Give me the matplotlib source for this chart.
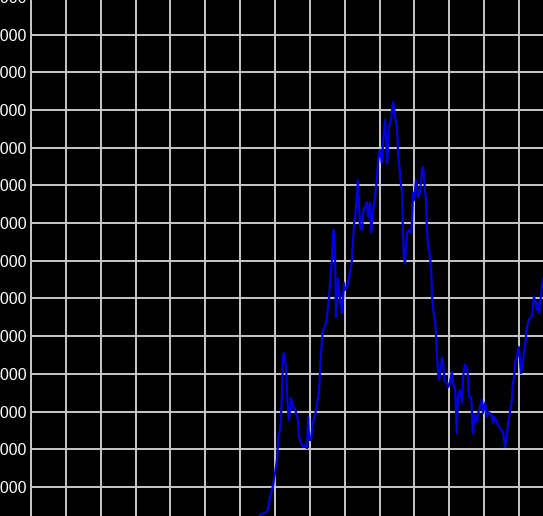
import matplotlib
matplotlib.use("Agg")
import matplotlib.pyplot as plt
from matplotlib.ticker import MultipleLocator, FuncFormatter

# Series (x in arbitrary time units, grid every 10; y values)
x_vals = [65.1, 65.7, 67.1, 68.0, 68.6, 69.2, 69.4, 70.0, 70.6, 70.9,
          71.2, 71.4, 71.7, 72.0, 72.3, 72.6, 73.2, 73.5, 73.7, 74.0,
          74.3, 74.6, 74.9, 75.2, 75.5, 76.0, 76.6, 76.9, 77.5, 78.0,
          78.6, 79.2, 79.5, 79.8, 80.3, 80.9, 81.8, 82.4, 82.6, 82.9,
          83.2, 83.5, 83.8, 84.1, 84.7, 84.9, 85.5, 85.8, 86.4, 86.7,
          86.9, 87.2, 87.5, 87.8, 88.1, 88.4, 89.0, 89.2, 89.5, 89.8,
          90.1, 90.7, 91.0, 91.5, 92.1, 92.4, 92.7, 93.0, 93.5, 93.8,
          94.1, 94.4, 95.0, 95.3, 95.8, 96.4, 96.7, 97.3, 97.6, 98.1,
          98.7, 99.3, 99.6, 100.1, 100.7, 101.0, 101.6, 101.9, 102.2, 102.4,
          102.7, 103.3, 103.6, 103.9, 104.2, 104.5, 105.0, 105.3, 105.6, 106.2,
          106.5, 106.7, 107.0, 107.3, 107.6, 107.9, 108.5, 109.0, 109.3, 109.6,
          109.9, 110.2, 110.5, 110.8, 111.0, 111.6, 112.2, 112.5, 112.8, 113.1,
          113.3, 113.6, 113.9, 114.5, 114.8, 115.1, 115.4, 115.9, 116.2, 116.5,
          116.8, 117.1, 117.6, 117.9, 118.2, 118.5, 118.8, 119.4, 119.7, 120.2,
          120.8, 121.1, 121.7, 122.2, 122.5, 123.1, 123.7, 124.0, 124.5, 125.1,
          125.4, 125.7, 126.3, 126.5, 126.8, 127.4, 128.0, 128.3, 128.8, 129.4,
          129.7, 130.3, 130.8, 131.1, 131.7, 132.3, 132.6, 132.9, 133.4, 134.0,
          134.9, 135.4, 135.7, 136.0, 136.6, 136.9, 137.4, 138.0, 138.3, 138.6,
          138.9, 139.5, 139.7, 140.0, 140.6, 140.9, 141.2, 141.7, 142.0, 142.3,
          142.9, 143.5, 143.8, 144.0, 144.3, 144.9, 145.2, 145.5, 145.8, 146.3,
          146.6, 146.9, 147.8]

y_vals = [130, 260, 310, 390, 740, 970, 1000, 1370, 1720, 2250,
          2430, 2460, 2780, 3390, 4500, 4550, 4180, 3390, 3120, 2780,
          3040, 3360, 3180, 3100, 3120, 2990, 2780, 2330, 2170, 2060,
          2110, 2030, 2860, 2250, 2250, 2700, 3040, 3390, 3490, 4020,
          4550, 4900, 5160, 5220, 5350, 5510, 6010, 6410, 7100, 7760,
          7820, 7370, 5510, 5880, 6540, 6230, 5770, 5620, 5960, 6410,
          6230, 6300, 6410, 6680, 7020, 7550, 8000, 8160, 8690, 9140,
          8530, 7900, 7820, 8270, 8430, 8560, 8160, 8530, 7760, 8270,
          8690, 9220, 9670, 9940, 9590, 10130, 10740, 10200, 9590, 9940,
          10550, 10740, 11000, 11210, 11050, 10810, 10550, 9940, 9590, 8960,
          8880, 7820, 7100, 6940, 7370, 7740, 7820, 7740, 8000, 8800,
          8610, 8880, 9140, 8960, 8690, 8800, 9410, 9490, 9220, 8800,
          8690, 7820, 7470, 7100, 6760, 6040, 5700, 5430, 5090, 4450,
          4020, 3840, 4180, 4420, 4370, 4020, 3790, 3760, 3650, 3760,
          4050, 3760, 3570, 2430, 3390, 3570, 3250, 3920, 4240, 4160,
          3920, 3390, 3390, 3040, 2430, 2910, 2720, 2960, 3120, 3310,
          2960, 3230, 2860, 2990, 2960, 2860, 2700, 2860, 2780, 2640,
          2510, 2460, 2330, 2060, 2430, 2700, 2960, 3310, 3760, 3920,
          4290, 4450, 4630, 4710, 4020, 4180, 4370, 4710, 4980, 5240,
          5430, 5510, 5560, 5770, 6040, 5880, 5700, 5880, 5620, 6040,
          6310, 6490, 6760]

y_step = 1000
x_step = 10

W, H = 543, 516
fig = plt.figure(figsize=(W / 100, H / 100), dpi=100, facecolor="black")

# Axes extends beyond the figure (the reference is a crop of a larger chart)
left_px, right_px = 31, 550
top_px, bottom_px = -30, 540
ax = fig.add_axes([left_px / W, (H - bottom_px) / H,
                   (right_px - left_px) / W, (bottom_px - top_px) / H])
ax.set_facecolor("black")

ax.plot(x_vals, y_vals, color="#0000e0", lw=1.6, solid_joinstyle="round")

ax.xaxis.set_major_locator(MultipleLocator(x_step))
ax.yaxis.set_major_locator(MultipleLocator(y_step))
ax.yaxis.set_major_formatter(FuncFormatter(lambda v, p: f"{int(round(v))}"))
ax.set_xlim(0, 148.92)
ax.set_ylim(-405.8, 14713)

ax.grid(True, color="#c8c8c8", lw=1.4)
ax.set_axisbelow(True)
for s in ["top", "right", "bottom"]:
    ax.spines[s].set_visible(False)
ax.spines["left"].set_color("#c8c8c8")
ax.spines["left"].set_linewidth(1.4)

ax.tick_params(axis="x", length=0, labelbottom=False)
ax.tick_params(axis="y", length=0, pad=2.9, labelcolor="white",
               labelsize=11.5)
for lab in ax.get_yticklabels():
    lab.set_fontfamily("Liberation Sans")

fig.savefig("out.png", dpi=100, facecolor="black")
